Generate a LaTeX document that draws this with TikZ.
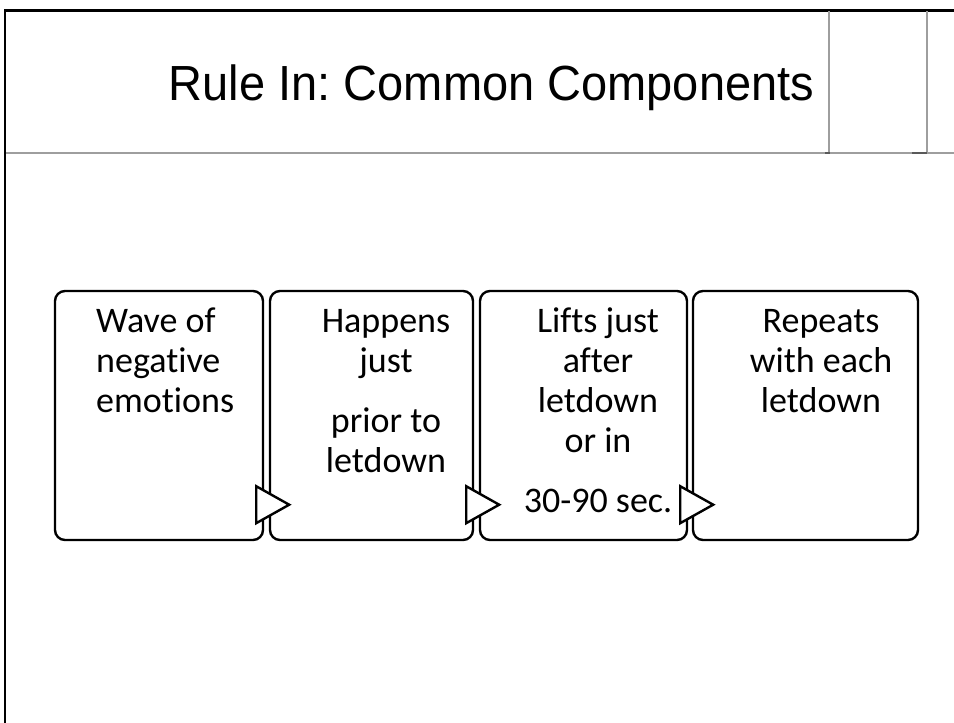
\documentclass[tikz,border=0pt]{standalone}
\usepackage{fontspec}
\setmainfont{Carlito}[Ligatures=NoCommon]
\newfontfamily\titlefont{Liberation Sans}
\usetikzlibrary{calc}
\frenchspacing
\begin{document}
\begin{tikzpicture}[x=1pt,y=-1pt,
  stepbox/.style={draw=black, line width=2.4pt, rounded corners=10pt, fill=white, inner sep=0pt, minimum height=249pt},
  flowtip/.style={draw=black, line width=2.4pt, fill=white, line join=miter},
  boxtext/.style={inner sep=0pt, font=\fontsize{36}{40}\selectfont, align=center, anchor=north},
  rulegrey/.style={draw=black!38, line width=1.2pt}]
\useasboundingbox (0,0) rectangle (954,723);
\fill[white] (0,0) rectangle (954,723);

% slide frame
\draw[black, line width=2.6pt] (5,723) -- (5,10);
\draw[black, line width=3pt] (4,10) -- (954,10);

% title band rules
\draw[rulegrey] (6,153) -- (954,153);
\draw[rulegrey] (829,11) -- (829,153);
\draw[rulegrey] (927,11) -- (927,153);
\draw[black!65, line width=1.2pt] (825,153) -- (830,153);
\draw[black!65, line width=1.2pt] (912,153) -- (927,153);

% title
\node[font=\titlefont\fontsize{47}{56}\selectfont, anchor=base, inner sep=0pt] (title) at (491.5,100) {\scalebox{1}[1.05]{Rule In: Common Components}};

% process steps
\node[stepbox, minimum width=208pt] (b1) at (159,415.5) {};
\node[stepbox, minimum width=203pt] (b2) at (371.5,415.5) {};
\node[stepbox, minimum width=207pt] (b3) at (583.5,415.5) {};
\node[stepbox, minimum width=225pt] (b4) at (805.5,415.5) {};

\node[boxtext, align=left, anchor=north west] (t1) at (96,304) {\strut Wave of\\negative\\emotions};
\node[boxtext] (t2) at (386,304) {\strut Happens\\just\\[20pt]prior to\\letdown};
\node[boxtext] (t3) at (598,304) {\strut Lifts just\\after\\letdown\\or in\\[20pt]30-90 sec.};
\node[boxtext] (t4) at (821,304) {\strut Repeats\\with each\\letdown};

% arrow heads between steps
\foreach \a in {b1,b2,b3}{
  \draw[flowtip] ($(\a.south east)+(-8,-55)$) -- ++(0,37) -- ++(33,-18.5) -- cycle;
}
\end{tikzpicture}
\end{document}
